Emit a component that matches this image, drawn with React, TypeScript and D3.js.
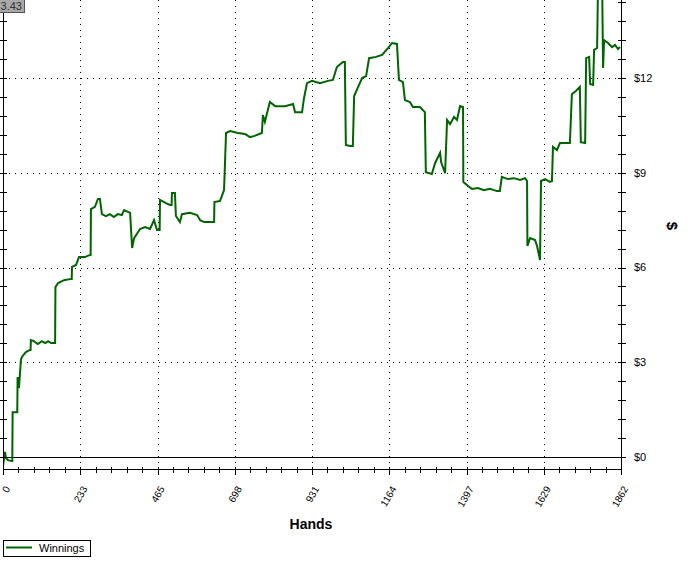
import React from 'react';
import * as d3 from 'd3';

// hand number / cumulative winnings ($)
const hands = [
  0, 6, 9, 15, 27, 28, 29, 42, 43, 44, 48, 54, 57, 69, 81, 83, 84, 93, 105, 117,
  127, 136, 145, 157, 158, 166, 184, 205, 207, 208, 220, 229, 247, 262, 264, 265,
  277, 286, 292, 298, 310, 322, 334, 346, 358, 365, 383, 389, 395, 413, 428, 443,
  455, 464, 472, 473, 491, 503, 508, 509, 518, 521, 533, 539, 563, 585, 594, 606,
  624, 636, 637, 654, 666, 672, 684, 708, 729, 744, 756, 780, 783, 789, 804, 820,
  850, 874, 880, 901, 907, 916, 931, 955, 979, 994, 1006, 1024, 1030, 1033, 1045,
  1054, 1058, 1070, 1082, 1094, 1103, 1124, 1142, 1160, 1172, 1187, 1193, 1205,
  1211, 1226, 1235, 1256, 1271, 1274, 1292, 1302, 1317, 1320, 1332, 1338, 1347,
  1359, 1368, 1377, 1386, 1387, 1401, 1413, 1431, 1449, 1467, 1488, 1497, 1503,
  1521, 1539, 1558, 1573, 1579, 1580, 1588, 1603, 1609, 1618, 1621, 1633, 1648,
  1654, 1657, 1669, 1678, 1708, 1714, 1726, 1738, 1741, 1754, 1757, 1766, 1769,
  1778, 1781, 1790, 1793, 1805, 1808, 1811, 1823, 1835, 1844, 1853, 1859,
];
const winnings = [
  -0.28, 0.16, -0.03, -0.1, -0.13, -0.13, 1.42, 1.42, 1.42, 2.53, 2.18, 3.07, 3.17,
  3.32, 3.39, 3.39, 3.7, 3.67, 3.58, 3.67, 3.61, 3.67, 3.61, 3.61, 5.38, 5.51, 5.6,
  5.64, 5.64, 6.02, 6.08, 6.33, 6.33, 6.4, 6.4, 7.85, 7.92, 8.17, 8.17, 7.69, 7.63,
  7.69, 7.6, 7.69, 7.66, 7.82, 7.73, 6.62, 6.93, 7.22, 7.28, 7.22, 7.5, 7.19, 7.19,
  8.14, 8.04, 7.98, 7.98, 8.36, 8.36, 7.63, 7.44, 7.69, 7.73, 7.66, 7.5, 7.44, 7.44,
  7.44, 8.07, 8.11, 8.45, 10.26, 10.32, 10.26, 10.23, 10.13, 10.16, 10.26, 10.83,
  10.61, 11.24, 11.11, 11.11, 11.18, 10.92, 10.92, 11.37, 11.84, 11.91, 11.84,
  11.91, 11.94, 12.35, 12.51, 12.51, 9.88, 9.85, 9.85, 11.43, 11.72, 12.0, 12.06,
  12.63, 12.67, 12.73, 12.95, 13.11, 13.08, 11.94, 11.87, 11.3, 11.24, 11.08, 11.08,
  10.92, 9.02, 8.96, 9.31, 9.63, 9.34, 8.99, 10.67, 10.54, 10.77, 10.67, 11.11,
  11.08, 8.71, 8.58, 8.49, 8.52, 8.45, 8.49, 8.42, 8.42, 8.87, 8.8, 8.83, 8.77, 8.83,
  8.74, 6.68, 6.93, 6.87, 6.68, 6.24, 8.74, 8.8, 8.71, 8.74, 9.82, 9.72, 9.94, 9.94,
  11.49, 11.59, 11.72, 9.97, 9.94, 12.63, 12.67, 11.81, 11.78, 12.89, 12.95, 15.1,
  15.1, 12.32, 13.2, 13.11, 12.98, 13.05, 12.92, 12.98,
];

const xTickLabels = ['0', '233', '465', '698', '931', '1164', '1397', '1629', '1862'];
const yTickValues = [0, 3, 6, 9, 12];
const maxHands = 1862;

const W = 694;
const H = 565;
const left = 3;
const right = 621;
const zeroY = 457;
const axisY = 469;
const font = '"Liberation Sans", Arial, sans-serif';
const green = '#006400';

export default function App() {
  const x = d3.scaleLinear().domain([0, maxHands]).range([left, right]);
  const y = d3.scaleLinear().domain([0, 15]).range([zeroY, zeroY - 15 * 31.58]);

  const points: [number, number][] = hands.map((h, i) => [h, winnings[i]]);
  const line = d3
    .line<[number, number]>()
    .x((d) => x(d[0]))
    .y((d) => y(d[1]));

  const majorX = xTickLabels.map((_, i) => (i * maxHands) / 8);
  const minorX = d3.range(0, 41).map((i) => (i * maxHands) / 40);
  const minorY = d3.range(0, 26).map((i) => i * 0.6).filter((v) => y(v) >= 0);

  return (
    <svg
      width={W}
      height={H}
      style={{ position: 'absolute', left: 0, top: 0, background: '#fff' }}
      fontFamily={font}
    >
      <defs>
        <clipPath id="plot">
          <rect x={left} y={0} width={right - left} height={axisY} />
        </clipPath>
      </defs>

      {/* grid */}
      {majorX.slice(1, -1).map((v) => (
        <line
          key={'gx' + v}
          x1={Math.round(x(v)) + 0.5}
          x2={Math.round(x(v)) + 0.5}
          y1={0}
          y2={axisY}
          stroke="#000"
          strokeDasharray="1,5"
        />
      ))}
      {yTickValues.slice(1).map((v) => (
        <line
          key={'gy' + v}
          x1={left}
          x2={right}
          y1={Math.round(y(v)) + 0.5}
          y2={Math.round(y(v)) + 0.5}
          stroke="#000"
          strokeDasharray="1,5"
        />
      ))}
      <line x1={left} x2={right} y1={zeroY + 0.5} y2={zeroY + 0.5} stroke="#000" />

      {/* series */}
      <path
        d={line(points) ?? ''}
        fill="none"
        stroke={green}
        strokeWidth={2}
        strokeLinejoin="miter"
        clipPath="url(#plot)"
      />

      {/* left axis */}
      <line x1={left + 0.5} x2={left + 0.5} y1={0} y2={axisY + 5} stroke="#000" />
      {minorY.map((v) => (
        <line
          key={'ly' + v}
          x1={0}
          x2={left + 4}
          y1={Math.round(y(v)) + 0.5}
          y2={Math.round(y(v)) + 0.5}
          stroke="#000"
        />
      ))}

      {/* right axis */}
      <line x1={right + 0.5} x2={right + 0.5} y1={0} y2={axisY + 5} stroke="#000" />
      {minorY.map((v) => (
        <line
          key={'ry' + v}
          x1={right - 3}
          x2={right + 5}
          y1={Math.round(y(v)) + 0.5}
          y2={Math.round(y(v)) + 0.5}
          stroke="#000"
        />
      ))}
      {yTickValues.map((v) => (
        <text
          key={'yl' + v}
          x={right + 13}
          y={y(v)}
          dy="0.35em"
          fontSize={11}
          fill="#000"
        >
          {'$' + v}
        </text>
      ))}
      <text
        transform={`translate(672,226) rotate(90)`}
        textAnchor="middle"
        dy="0.35em"
        fontSize={15}
        fontWeight="bold"
      >
        $
      </text>

      {/* bottom axis */}
      <line x1={left} x2={right + 1} y1={axisY + 0.5} y2={axisY + 0.5} stroke="#000" />
      {minorX.map((v, i) => (
        <line
          key={'mx' + i}
          x1={Math.round(x(v)) + 0.5}
          x2={Math.round(x(v)) + 0.5}
          y1={axisY - 2}
          y2={i % 5 === 0 ? axisY + 6 : axisY + 4}
          stroke="#000"
        />
      ))}
      {majorX.map((v, i) => (
        <text
          key={'xl' + i}
          transform={`translate(${x(v) + 4.5},487) rotate(-60)`}
          textAnchor="end"
          dy="0.35em"
          fontSize={10}
          fill="#000"
        >
          {xTickLabels[i]}
        </text>
      ))}
      <text x={311} y={529} textAnchor="middle" fontSize={14} fontWeight="bold">
        Hands
      </text>

      {/* legend */}
      <rect x={3.5} y={540.5} width={87} height={16} fill="#fff" stroke="#000" />
      <line x1={6} x2={32} y1={547.5} y2={547.5} stroke={green} strokeWidth={2} />
      <text x={39} y={552} fontSize={11} fill="#000">
        Winnings
      </text>

      {/* value tag */}
      <rect x={-1} y={-1} width={25.5} height={13.5} fill="#a9a9a9" stroke="#555" />
      <text x={22} y={10} textAnchor="end" fontSize={11} fill="#333">
        3.43
      </text>
    </svg>
  );
}
